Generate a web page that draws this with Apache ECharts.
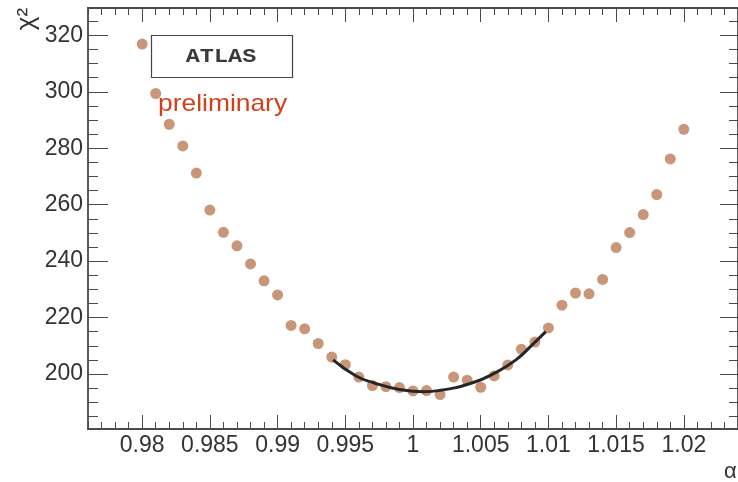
<!DOCTYPE html>
<html>
<head>
<meta charset="utf-8">
<script src="https://cdn.jsdelivr.net/npm/echarts@6/dist/echarts.min.js"></script>
<style>html,body{margin:0;padding:0;background:#fff;}#c{width:738px;height:482px;}</style>
</head>
<body>
<div id="c"></div>
<script>
// ---- data ----
const alpha = [0.980,0.981,0.982,0.983,0.984,0.985,0.986,0.987,0.988,0.989,0.990,
  0.991,0.992,0.993,0.994,0.995,0.996,0.997,0.998,0.999,1.000,
  1.001,1.002,1.003,1.004,1.005,1.006,1.007,1.008,1.009,1.010,
  1.011,1.012,1.013,1.014,1.015,1.016,1.017,1.018,1.019,1.020];
const chi2 = [316.9,299.4,288.5,280.8,271.2,258.1,250.2,245.4,239.0,233.0,228.0,
  217.2,216.0,210.8,206.0,203.3,198.9,195.9,195.5,195.2,194.0,
  194.1,192.7,198.9,197.8,195.3,199.3,203.2,208.8,211.3,216.3,
  224.4,228.7,228.4,233.5,244.8,250.1,256.5,263.6,276.2,286.7];
// fit curve
const fitX = [0.9941,0.9958,0.9971,0.9989,1.0008,1.0019,1.0044,1.0061,1.0076,1.0088,1.0098];
const fitY = [205.0,199.3,196.9,194.6,193.7,194.1,196.9,200.5,205.0,210.3,215.0];
// ticks
const xTicks = [0.98,0.985,0.99,0.995,1,1.005,1.01,1.015,1.02];
const xTickLabels = ['0.98','0.985','0.99','0.995','1','1.005','1.01','1.015','1.02'];
const yTicks = [200,220,240,260,280,300,320];
const yTickLabels = ['200','220','240','260','280','300','320'];
const xMin = 0.976, xMax = 1.024, yMin = 180.5, yMax = 329.7;

const xMinor = []; for (let i = 976; i <= 1024; i++) xMinor.push(i/1000);
const yMinor = []; for (let v = 185; v <= 325; v += 5) yMinor.push(v);

const frameColor = '#4a4a4a';
const labelFont = {fontFamily:'Liberation Sans', fontSize:23, color:'#333'};

function xAx(pos, ticks, len, showLine, showLabel){
  return {type:'value', position:pos, min:xMin, max:xMax, splitLine:{show:false},
    axisLine:{show:showLine, onZero:false, lineStyle:{color:frameColor, width:1.8}},
    axisTick:{show:true, inside:true, length:len, customValues:ticks, lineStyle:{color:frameColor, width:1}},
    axisLabel:Object.assign({show:showLabel, margin:5, customValues:xTicks,
      formatter:v=>{const i=xTicks.findIndex(t=>Math.abs(t-v)<1e-9);return i>=0?xTickLabels[i]:'';}}, labelFont)};
}
function yAx(pos, ticks, len, showLine, showLabel){
  return {type:'value', position:pos, min:yMin, max:yMax, splitLine:{show:false},
    axisLine:{show:showLine, onZero:false, lineStyle:{color:frameColor, width:1.8}},
    axisTick:{show:true, inside:true, length:len, customValues:ticks, lineStyle:{color:frameColor, width:1}},
    axisLabel:Object.assign({show:showLabel, margin:5, customValues:yTicks,
      formatter:v=>{const i=yTicks.findIndex(t=>Math.abs(t-v)<1e-9);return i>=0?yTickLabels[i]:'';}}, labelFont)};
}

const chart = echarts.init(document.getElementById('c'), null, {renderer:'canvas'});
chart.setOption({
  animation:false,
  backgroundColor:'#fff',
  grid:{left:88, right:-1, top:8, bottom:53, containLabel:false},
  xAxis:[
    xAx('bottom', xTicks, 14, true, true),
    xAx('bottom', xMinor, 7, false, false),
    xAx('top', xTicks, 14, true, false),
    xAx('top', xMinor, 7, false, false)
  ],
  yAxis:[
    yAx('left', yTicks, 20, true, true),
    yAx('left', yMinor, 10, false, false),
    yAx('right', yTicks, 18, true, false),
    yAx('right', yMinor, 9, false, false)
  ],
  series:[
    {type:'scatter', xAxisIndex:0, yAxisIndex:0, symbol:'circle', symbolSize:11,
      itemStyle:{color:'#c9967a', opacity:1}, data:alpha.map((a,i)=>[a,chi2[i]]), z:2},
    {type:'line', xAxisIndex:0, yAxisIndex:0, smooth:true, showSymbol:false,
      lineStyle:{color:'#262626', width:3}, data:fitX.map((a,i)=>[a,fitY[i]]), z:3}
  ],
  graphic:[
    {type:'rect', shape:{x:151.5, y:35.5, width:141, height:42}, style:{fill:'#fff', stroke:'#444', lineWidth:1.2}, z:10},
    {type:'text', x:221, y:57, scaleX:1.12, z:11,
      style:{text:'ATLAS', fontFamily:'Liberation Mono', fontWeight:'bold', fontSize:21, fill:'#3a3a3a', textAlign:'center', textVerticalAlign:'middle'}},
    {type:'text', x:158, y:104, scaleX:1.1, z:11,
      style:{text:'preliminary', fontFamily:'Liberation Sans', fontSize:24, fill:'#d2401a', textAlign:'left', textVerticalAlign:'middle'}},
    {type:'text', x:27, y:19, rotation:Math.PI/2, z:11,
      style:{text:'χ²', fontFamily:'Liberation Sans', fontSize:26, fill:'#333', textAlign:'center', textVerticalAlign:'middle'}},
    {type:'text', x:724, y:472, z:11,
      style:{text:'α', fontFamily:'Liberation Sans', fontSize:22, fill:'#333', textAlign:'left', textVerticalAlign:'middle'}}
  ]
});
</script>
</body>
</html>
